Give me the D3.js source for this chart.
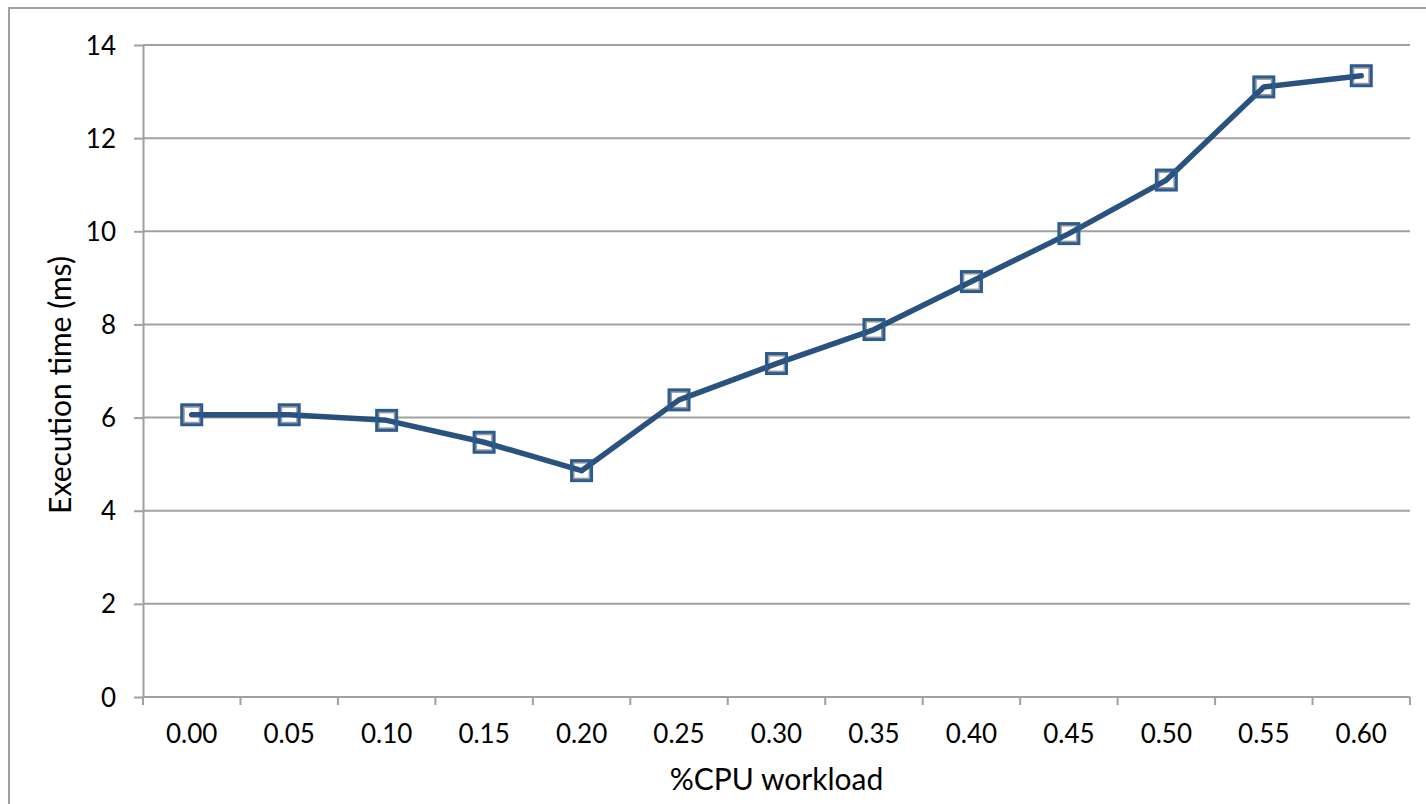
<!DOCTYPE html>
<html>
<head>
<meta charset="utf-8">
<script src="https://cdn.jsdelivr.net/npm/d3@7"></script>
<style>
  html, body { margin: 0; padding: 0; background: #fff; }
  svg { display: block; }
  text { font-family: Lato, "Open Sans", sans-serif; fill: #000; }
</style>
</head>
<body>
<svg id="chart" width="1426" height="804"></svg>
<script>
// CPU workload share (categories) and measured execution time in ms
const workload = ["0.00", "0.05", "0.10", "0.15", "0.20", "0.25", "0.30",
                  "0.35", "0.40", "0.45", "0.50", "0.55", "0.60"];
const execTime = [6.06, 6.06, 5.94, 5.47, 4.86, 6.38, 7.16,
                  7.89, 8.92, 9.95, 11.10, 13.10, 13.34];
const yTicks = [0, 2, 4, 6, 8, 10, 12, 14];

const svg = d3.select("#chart");
const plot = { left: 143, right: 1410, top: 45, bottom: 697 };
const gridColor = "#a0a0a0";
const lineColor = "#1d4a77";
const markerEdge = "#2c5b8f";

// outer chart frame
svg.append("rect")
  .attr("x", 9).attr("y", 8)
  .attr("width", 1500).attr("height", 900)
  .attr("fill", "none").attr("stroke", gridColor).attr("stroke-width", 2);

const x = d3.scaleBand().domain(workload).range([plot.left, plot.right]).paddingInner(0).paddingOuter(0);
const y = d3.scaleLinear().domain([0, 14]).range([plot.bottom, plot.top]);

// horizontal gridlines
svg.append("g").selectAll("line").data(yTicks.filter(d => d > 0)).join("line")
  .attr("x1", plot.left).attr("x2", plot.right)
  .attr("y1", d => y(d)).attr("y2", d => y(d))
  .attr("stroke", gridColor).attr("stroke-width", 2);

// y axis
const yAxis = svg.append("g").attr("transform", `translate(${plot.left},0)`)
  .call(d3.axisLeft(y).tickValues(yTicks).tickSize(9).tickPadding(18).tickSizeOuter(0));
yAxis.select(".domain").attr("stroke", gridColor).attr("stroke-width", 2);
yAxis.selectAll(".tick line").attr("stroke", gridColor).attr("stroke-width", 2);
yAxis.selectAll(".tick text").attr("font-size", 26).attr("font-family", "Lato, sans-serif").attr("dy", "0.35em");

// x axis with ticks on category boundaries
const xAxisG = svg.append("g").attr("transform", `translate(0,${plot.bottom})`);
xAxisG.append("line").attr("x1", plot.left).attr("x2", plot.right)
  .attr("stroke", gridColor).attr("stroke-width", 2);
const bounds = workload.map(d => x(d)).concat([x(workload[workload.length - 1]) + x.bandwidth()]);
xAxisG.selectAll("line.tk").data(bounds).join("line").attr("class", "tk")
  .attr("x1", d => d).attr("x2", d => d).attr("y1", 0).attr("y2", 8)
  .attr("stroke", gridColor).attr("stroke-width", 2);
xAxisG.selectAll("text").data(workload).join("text")
  .attr("x", d => x(d) + x.bandwidth() / 2).attr("y", 46)
  .attr("text-anchor", "middle").attr("font-size", 26)
  .text(d => d);

// axis titles
svg.append("text").attr("x", (plot.left + plot.right) / 2).attr("y", 790)
  .attr("text-anchor", "middle").attr("font-size", 30).text("%CPU workload");
svg.append("text").attr("transform", "translate(71,385) rotate(-90)")
  .attr("text-anchor", "middle").attr("font-size", 30).text("Execution time (ms)");

const cx = d => x(d) + x.bandwidth() / 2;
const pts = workload.map((w, i) => ({ w, v: execTime[i] }));

// marker fill beneath the line
const ms = 20;
svg.append("g").selectAll("rect").data(pts).join("rect")
  .attr("x", d => cx(d.w) - ms / 2 + 2).attr("y", d => y(d.v) - ms / 2 + 2)
  .attr("width", ms - 4).attr("height", ms - 4)
  .attr("fill", "#fff").attr("stroke", "#9a9a9a").attr("stroke-width", 2);

// series line
svg.append("path").datum(pts)
  .attr("d", d3.line().x(d => cx(d.w)).y(d => y(d.v)))
  .attr("fill", "none").attr("stroke", lineColor).attr("stroke-width", 5.5)
  .attr("stroke-linejoin", "round").attr("stroke-linecap", "round")
  .attr("stroke-opacity", 0.95);

// marker outlines
svg.append("g").selectAll("rect").data(pts).join("rect")
  .attr("x", d => cx(d.w) - ms / 2).attr("y", d => y(d.v) - ms / 2)
  .attr("width", ms).attr("height", ms)
  .attr("fill", "none").attr("stroke", markerEdge).attr("stroke-width", 3);
</script>
</body>
</html>
